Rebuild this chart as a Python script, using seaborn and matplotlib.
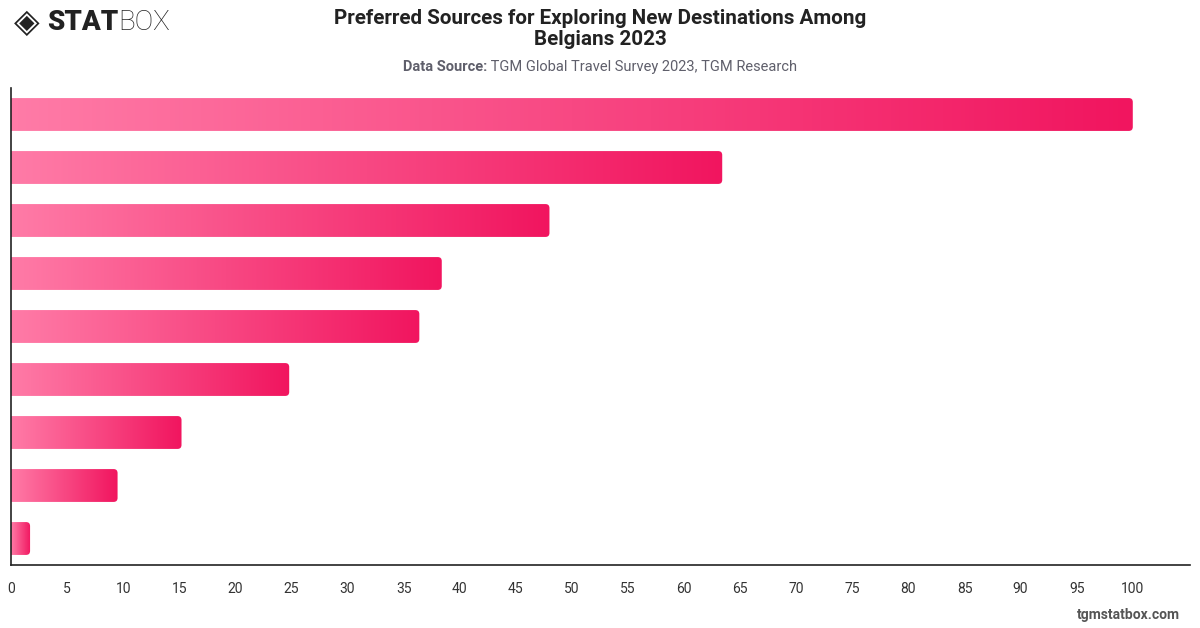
import numpy as np
import pandas as pd
import matplotlib
matplotlib.use("Agg")
import matplotlib.pyplot as plt
import seaborn as sns
from matplotlib.patches import FancyBboxPatch
from matplotlib.colors import LinearSegmentedColormap

# ---- data ----
categories = ["Source 1", "Source 2", "Source 3", "Source 4", "Source 5",
              "Source 6", "Source 7", "Source 8", "Source 9"]
values = [100.0, 63.4, 48.0, 38.4, 36.4, 24.8, 15.2, 9.5, 1.7]
xticks = [0, 5, 10, 15, 20, 25, 30, 35, 40, 45, 50, 55, 60, 65, 70, 75, 80, 85, 90, 95, 100]

title = "Preferred Sources for Exploring New Destinations Among\nBelgians 2023"
source_label = "Data Source:"
source_text = "TGM Global Travel Survey 2023, TGM Research"
footer = "tgmstatbox.com"

sns.set_theme(style="white")
plt.rcParams['font.family'] = ['Roboto', 'DejaVu Sans']

W, H = 1200, 628
fig = plt.figure(figsize=(W / 100, H / 100), dpi=100)
ax_left, ax_right, ax_top, ax_bottom = 11, 1190, 88, 565
ax = fig.add_axes([ax_left / W, 1 - ax_bottom / H, (ax_right - ax_left) / W, (ax_bottom - ax_top) / H])

df = pd.DataFrame({"category": categories, "value": values})
sns.barplot(data=df, x="value", y="category", orient="h", ax=ax,
            color="#f5487f", width=0.62, saturation=1)

xmax = 105.1
ax.set_xlim(0, xmax)
ax.set_ylim(len(categories) - 0.5, -0.5)

cmap = LinearSegmentedColormap.from_list("pinkgrad", ["#ff7ba7", "#f1155f"])
grad = np.linspace(0, 1, 256).reshape(1, -1)

x_per_px = xmax / (ax_right - ax_left)
y_per_px = len(categories) / (ax_bottom - ax_top)
radius_px = 4

for p in list(ax.patches):
    x0, y0 = p.get_x(), p.get_y()
    w, h = p.get_width(), p.get_height()
    p.set_visible(False)
    ext = radius_px * x_per_px * 1.5
    clip = FancyBboxPatch((x0 - ext, y0), w + ext, h,
                          boxstyle=f"round,pad=0,rounding_size={radius_px * x_per_px}",
                          mutation_aspect=y_per_px / x_per_px,
                          transform=ax.transData, facecolor="none", edgecolor="none")
    ax.add_patch(clip)
    im = ax.imshow(grad, cmap=cmap, aspect="auto", extent=(x0, x0 + w, y0 + h, y0),
                   interpolation="bicubic", zorder=2)
    im.set_clip_path(clip)

ax.set_ylim(len(categories) - 0.5, -0.5)
ax.set_xlim(0, xmax)
ax.set_xticks(xticks)
ax.set_xticklabels([str(t) for t in xticks], fontsize=10, color="#333333")
ax.set_yticks([])
ax.set_xlabel("")
ax.set_ylabel("")
ax.tick_params(axis="x", length=0, pad=12)
for s in ["top", "right"]:
    ax.spines[s].set_visible(False)
for s in ["left", "bottom"]:
    ax.spines[s].set_visible(True)
    ax.spines[s].set_color("#222222")
    ax.spines[s].set_linewidth(1.2)

# titles
fig.text(600 / W, 1 - 29 / H, title, ha="center", va="center", fontsize=14.9,
         fontweight="bold", color="#222222", linespacing=1.15)
t1 = fig.text(0, 1 - 67 / H, source_label, ha="left", va="center", fontsize=10.5,
              fontweight="bold", color="#5f5f6b")
t2 = fig.text(0, 1 - 67 / H, " " + source_text, ha="left", va="center", fontsize=10.5,
              color="#5f5f6b")
fig.canvas.draw()
r = fig.canvas.get_renderer()
w1 = t1.get_window_extent(r).width
w2 = t2.get_window_extent(r).width
start = 600 - (w1 + w2) / 2
t1.set_x(start / W)
t2.set_x((start + w1) / W)

# logo
fig.text(14 / W, 1 - 22 / H, "◈", ha="left", va="center", fontsize=24, color="#222222",
         fontweight="bold", family=["DejaVu Sans"])
ts = fig.text(47 / W, 1 - 22 / H, "STAT", ha="left", va="center", fontsize=20,
              fontweight="black", color="#222222")
fig.canvas.draw()
ws = ts.get_window_extent(fig.canvas.get_renderer()).width
fig.text((47 + ws) / W, 1 - 22 / H, "BOX", ha="left", va="center", fontsize=20,
         fontweight="light", color="#222222")

# footer
fig.text(1180 / W, 1 - 615 / H, footer, ha="right", va="center", fontsize=10,
         fontweight="bold", color="#555555")

fig.savefig("out.png", dpi=100)
